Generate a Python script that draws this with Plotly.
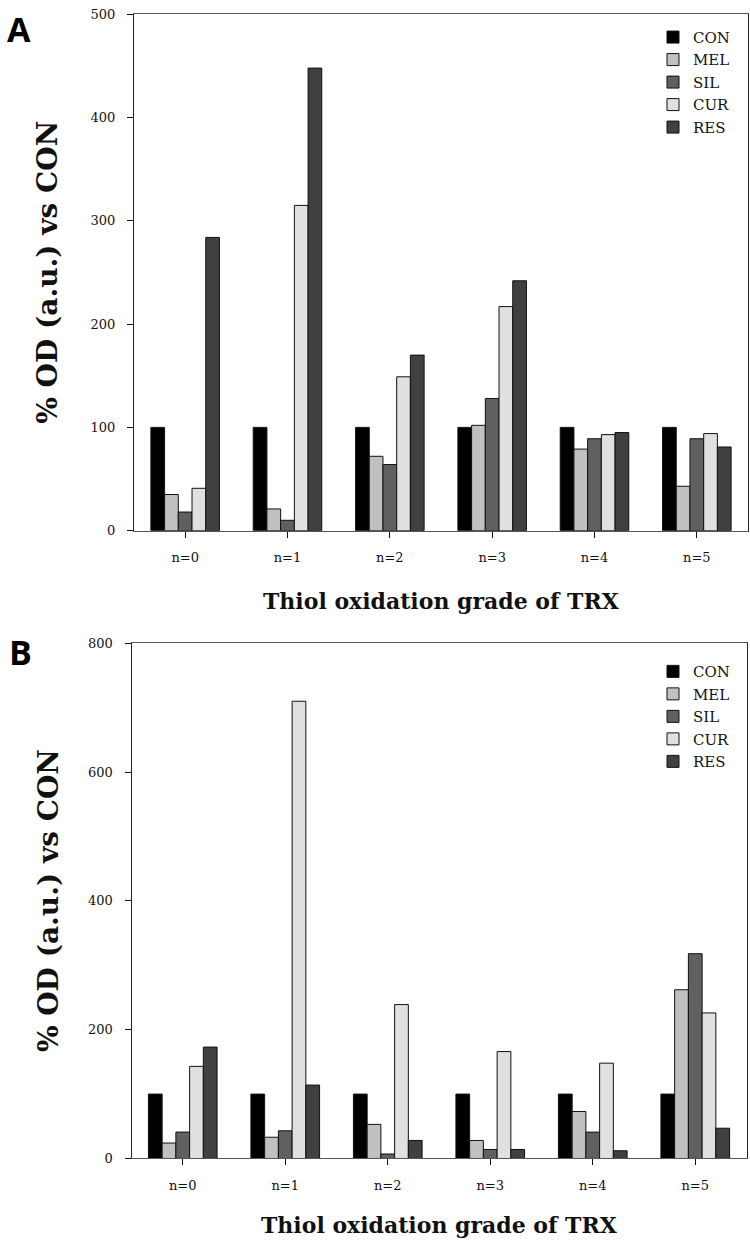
import plotly.graph_objects as go

categories = ["n=0", "n=1", "n=2", "n=3", "n=4", "n=5"]
series_names = ["CON", "MEL", "SIL", "CUR", "RES"]
series_colors = ["#000000", "#c0c0c0", "#606060", "#e0e0e0", "#404040"]

# Panel A values (% OD vs CON)
a_con = [100, 100, 100, 100, 100, 100]
a_mel = [35, 21, 72, 102, 79, 43]
a_sil = [18, 10, 64, 128, 89, 89]
a_cur = [41, 315, 149, 217, 93, 94]
a_res = [284, 448, 170, 242, 95, 81]

# Panel B values (% OD vs CON)
b_con = [100, 100, 100, 100, 100, 100]
b_mel = [24, 33, 53, 28, 73, 262]
b_sil = [41, 43, 7, 14, 41, 318]
b_cur = [143, 710, 239, 166, 148, 226]
b_res = [173, 114, 28, 14, 12, 47]

a_tickvals = [0, 100, 200, 300, 400, 500]
b_tickvals = [0, 200, 400, 600, 800]

serif = "DejaVu Serif"
W, H = 750, 1248

fig = go.Figure()

for name, color, vals in zip(series_names, series_colors, [a_con, a_mel, a_sil, a_cur, a_res]):
    fig.add_trace(go.Bar(x=categories, y=vals, name=name, marker=dict(color=color, line=dict(color="#111111", width=1)),
                         xaxis="x", yaxis="y", legend="legend"))
for name, color, vals in zip(series_names, series_colors, [b_con, b_mel, b_sil, b_cur, b_res]):
    fig.add_trace(go.Bar(x=categories, y=vals, name=name, marker=dict(color=color, line=dict(color="#111111", width=1)),
                         xaxis="x2", yaxis="y2", legend="legend2"))

def px_x(p):
    return p / W

def px_y(p):
    return 1 - p / H

xcommon = dict(showline=True, mirror=True, linecolor="#555555", linewidth=1, ticks="outside", ticklen=6,
               tickcolor="#111111", tickfont=dict(family=serif, size=13, color="#111111"), showgrid=False,
               zeroline=False, ticklabelstandoff=9, range=[-0.5, 5.5], fixedrange=True)
ycommon = dict(showline=True, mirror=True, linecolor="#222222", linewidth=1, ticks="outside", ticklen=6,
               tickcolor="#111111", tickfont=dict(family=serif, size=13, color="#111111"), showgrid=False,
               zeroline=False, ticklabelstandoff=9)

fig.update_layout(
    width=W, height=H,
    margin=dict(l=0, r=0, t=0, b=0),
    paper_bgcolor="white", plot_bgcolor="white",
    barmode="group", bargap=0.33, bargroupgap=0,
    xaxis=dict(domain=[px_x(134), px_x(748)], anchor="y", **xcommon),
    yaxis=dict(domain=[px_y(530), px_y(7.5)], anchor="x", range=[0, 500], tickvals=a_tickvals, **ycommon),
    xaxis2=dict(domain=[px_x(131.5), px_x(746.5)], anchor="y2", **xcommon),
    yaxis2=dict(domain=[px_y(1165.5), px_y(644)], anchor="x2", range=[0, 800], tickvals=b_tickvals, **ycommon),
    legend=dict(x=px_x(653), y=px_y(14), xanchor="left", yanchor="top", bgcolor="rgba(0,0,0,0)",
                font=dict(family=serif, size=15, color="#111111"), traceorder="normal"),
    legend2=dict(x=px_x(653), y=px_y(656), xanchor="left", yanchor="top", bgcolor="rgba(0,0,0,0)",
                 font=dict(family=serif, size=15, color="#111111"), traceorder="normal"),
    showlegend=True,
)

title_font = dict(family=serif, size=22, color="#111111", weight="bold")
ytitle_font = dict(family=serif, size=28, color="#111111", weight="bold")
letter_font = dict(family="Open Sans", size=34, color="#000000", weight="bold")
common_ann = dict(xref="paper", yref="paper", showarrow=False, xanchor="center", yanchor="middle")
annotations = [
    dict(text="% OD (a.u.) vs CON", x=px_x(48), y=px_y(269), textangle=-90, font=ytitle_font, **common_ann),
    dict(text="% OD (a.u.) vs CON", x=px_x(48), y=px_y(905), textangle=-90, font=ytitle_font, **common_ann),
    dict(text="Thiol oxidation grade of TRX", x=px_x(441), y=px_y(601), font=title_font, **common_ann),
    dict(text="Thiol oxidation grade of TRX", x=px_x(439), y=px_y(1233), font=title_font, **common_ann),
    dict(text="A", x=px_x(19), y=px_y(22), font=letter_font, **common_ann),
    dict(text="B", x=px_x(20), y=px_y(653), font=letter_font, **common_ann),
]
fig.update_layout(annotations=annotations)

fig.write_html("out.html", config={"displayModeBar": False},
               post_script="document.body.style.margin='0';")
